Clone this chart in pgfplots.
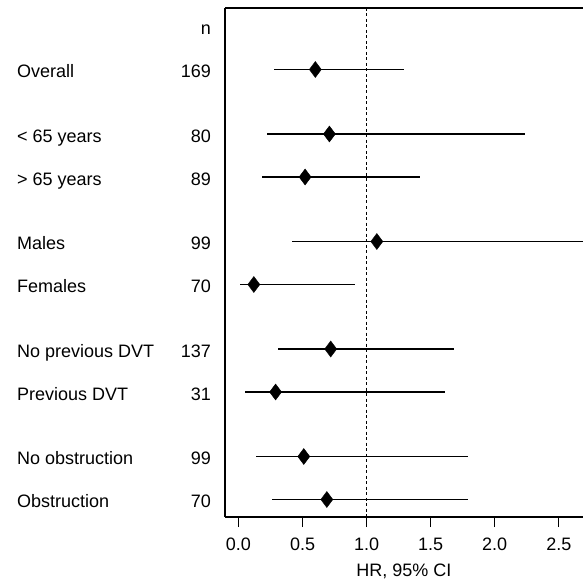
\documentclass[border=0pt]{standalone}
\usepackage{pgfplots}
\pgfplotsset{compat=1.18}
\usepackage{pgfplotstable}
\usepackage{fontspec}
\setmainfont{Liberation Sans}

% rows: y in pixel units from top, hr with lower/upper CI
\pgfplotstableread{
y     hr    lo    hi
69.5  0.60  0.28  1.29
134   0.71  0.22  2.24
177   0.52  0.18  1.42
241.5 1.08  0.42  3.00
284.5 0.12  0.01  0.91
349   0.72  0.31  1.68
392   0.29  0.05  1.61
456.5 0.51  0.14  1.79
499.5 0.69  0.26  1.79
}\forestdata

\begin{document}
\fontsize{18}{21}\selectfont
\begin{tikzpicture}[x=1pt,y=1pt]
\path[use as bounding box] (0,0) rectangle (583,580);
\begin{axis}[
    at={(225pt,63pt)}, anchor=south west,
    width=358pt, height=509pt, scale only axis,
    xmin=-0.105, xmax=2.689,
    ymin=8, ymax=517, y dir=reverse,
    axis x line*=bottom, axis y line*=left,
    axis line style={-, line width=1.2pt},
    ytick=\empty,
    xtick={0,0.5,1,1.5,2,2.5},
    xticklabels={0.0,0.5,1.0,1.5,2.0,2.5},
    tick align=outside, major tick length=10pt,
    tick style={line width=1.2pt, black},
    xticklabel style={font=\fontsize{18}{21}\selectfont, anchor=base, yshift=-23pt},
    xlabel={HR, 95\% CI},
    xlabel style={font=\fontsize{18}{21}\selectfont, anchor=base, at={(0.5,0)}, yshift=-59pt},
]
\addplot[black, dash pattern=on 3pt off 2.5pt, line width=1pt] coordinates {(1,8) (1,517)};
\addplot[only marks, mark=diamond*, mark size=8pt, black,
    error bars/.cd, x dir=both, x explicit, error mark=none,
    error bar style={line width=1.2pt, black}]
  table[x=hr, y=y,
        x error plus expr=\thisrow{hi}-\thisrow{hr},
        x error minus expr=\thisrow{hr}-\thisrow{lo}] {\forestdata};
\draw[line width=1.2pt] (rel axis cs:0,1) -- (rel axis cs:1,1);
\end{axis}
% row labels (baseline = 580 - row - 8.3)
\node[anchor=base east, inner sep=0] at (211,545) {n};
\foreach \lab/\n/\r in {Overall/169/69.5, {< 65 years}/80/134, {> 65 years}/89/177,
    Males/99/241.5, Females/70/284.5, {No previous DVT}/137/349,
    {Previous DVT}/31/392, {No obstruction}/99/456.5, Obstruction/70/499.5}{
  \node[anchor=base west, inner sep=0] at (17,{580-\r-8.3}) {\lab};
  \node[anchor=base east, inner sep=0] at (211,{580-\r-8.3}) {\n};
}
\end{tikzpicture}
\end{document}
